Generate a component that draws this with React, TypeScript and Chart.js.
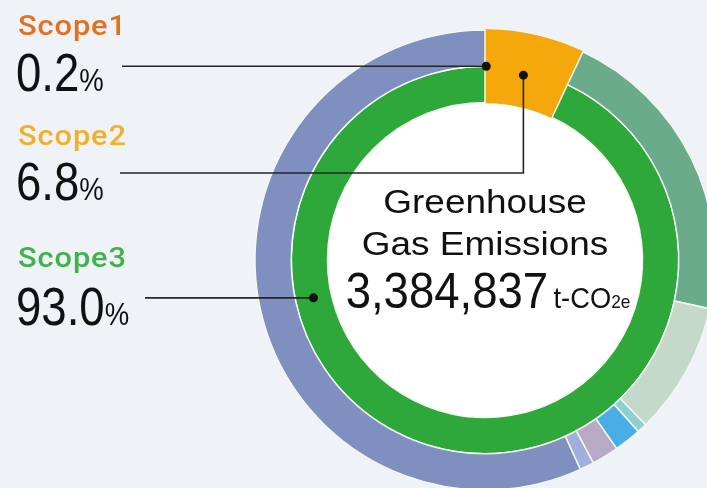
import React, { useEffect, useRef } from "react";
import { Chart, registerables } from "chart.js";

Chart.register(...registerables);

// ---- data ----
const scopeLabels = ["Scope1", "Scope2", "Scope3"];
const scopeShares = [0.2, 6.8, 93.0];
const scopeColors = ["#f5a80c", "#f5a80c", "#2ea83a"];

const breakdownLabels = [
  "Scope1",
  "Scope2",
  "Scope3 category A",
  "Scope3 category B",
  "Scope3 category C",
  "Scope3 category D",
  "Scope3 category E",
  "Scope3 category F",
  "Scope3 category G",
];
const breakdownShares = [0.2, 6.8, 21.4, 9.3, 0.7, 1.9, 1.9, 1.0, 56.8];
const breakdownColors = [
  "#f5a80c",
  "#f5a80c",
  "#6aab8b",
  "#c4d9c9",
  "#8fcfcd",
  "#4badE5",
  "#b8a9c5",
  "#9fb0dd",
  "#7f8fbf",
];

const labelPercents = ["0.2", "6.8", "93.0"];
const labelColors = ["#e2701f", "#f0b12a", "#3db34a"];
const totalText = "3,384,837";

const FONT = '"Liberation Sans", Arial, Helvetica, sans-serif';

export default function App() {
  const ref = useRef<HTMLCanvasElement | null>(null);

  useEffect(() => {
    if (!ref.current) return;
    const lineColor = "#262626";

    const leaderPlugin = {
      id: "leaders",
      beforeDatasetsDraw(chart: any) {
        const meta = chart.getDatasetMeta(1);
        const el = meta.data[0];
        if (!el) return;
        const ctx = chart.ctx;
        ctx.save();
        ctx.beginPath();
        ctx.arc(el.x, el.y, el.innerRadius, 0, Math.PI * 2);
        ctx.fillStyle = "#ffffff";
        ctx.fill();
        ctx.restore();
      },
      afterDatasetsDraw(chart: any) {
        const meta = chart.getDatasetMeta(1);
        const els = meta.data;
        if (!els || els.length < 3) return;
        const ctx = chart.ctx;
        const pt = (el: any, frac: number, r: number) => {
          const a = el.startAngle + (el.endAngle - el.startAngle) * frac;
          return { x: el.x + r * Math.cos(a), y: el.y + r * Math.sin(a) };
        };
        ctx.save();
        ctx.strokeStyle = lineColor;
        ctx.fillStyle = "#111";
        ctx.lineWidth = 1.6;

        // Scope1
        const p1 = pt(els[0], 0.5, els[0].outerRadius);
        ctx.beginPath();
        ctx.moveTo(122, p1.y);
        ctx.lineTo(p1.x, p1.y);
        ctx.stroke();
        ctx.beginPath();
        ctx.arc(p1.x, p1.y, 4.5, 0, Math.PI * 2);
        ctx.fill();

        // Scope2
        const p2 = pt(els[1], 0.45, els[1].outerRadius - 5);
        ctx.beginPath();
        ctx.moveTo(120, 173);
        ctx.lineTo(p2.x, 173);
        ctx.lineTo(p2.x, p2.y);
        ctx.stroke();
        ctx.beginPath();
        ctx.arc(p2.x, p2.y, 4.5, 0, Math.PI * 2);
        ctx.fill();

        // Scope3
        const p3 = pt(els[2], 0.694, (els[2].outerRadius + els[2].innerRadius) / 2);
        ctx.beginPath();
        ctx.moveTo(145, p3.y);
        ctx.lineTo(p3.x, p3.y);
        ctx.stroke();
        ctx.beginPath();
        ctx.arc(p3.x, p3.y, 4.5, 0, Math.PI * 2);
        ctx.fill();
        ctx.restore();
      },
    };

    const chart = new Chart(ref.current, {
      type: "doughnut",
      data: {
        labels: breakdownLabels,
        datasets: [
          {
            label: "Breakdown",
            data: breakdownShares,
            backgroundColor: breakdownColors,
            borderColor: breakdownColors.map((c, i) => (i < 2 ? c : "#f3f7f1")),
            borderWidth: 1.5,
            hoverOffset: 0,
          },
          {
            label: "Scope",
            data: scopeShares,
            backgroundColor: scopeColors,
            borderColor: scopeColors.map((c, i) => (i < 2 ? c : "#f3f9ee")),
            borderWidth: 1.5,
            hoverOffset: 0,
          },
        ],
      },
      options: {
        responsive: false,
        animation: false,
        events: [],
        radius: 230,
        cutout: 157,
        layout: { padding: { left: 255, top: 30, right: 15, bottom: 10 } },
        plugins: {
          legend: { display: false },
          tooltip: { enabled: false },
        },
      } as any,
      plugins: [leaderPlugin],
    });
    return () => chart.destroy();
  }, []);

  const base = (size: number, baseline: number) => baseline - 0.8465 * size;

  const scopeBaselines = [36, 146, 268];
  const pctBaselines = [91, 200, 325];

  return (
    <div
      style={{
        position: "fixed",
        left: 0,
        top: 0,
        width: 707,
        height: 488,
        overflow: "hidden",
        background: "#eff2f6",
        fontFamily: FONT,
      }}
    >
      <canvas
        ref={ref}
        width={730}
        height={500}
        style={{ position: "absolute", left: 0, top: 0 }}
      />
      {scopeLabels.map((s, i) => (
        <React.Fragment key={s}>
          <div
            style={{
              position: "absolute",
              left: 18,
              top: base(27, scopeBaselines[i]),
              fontFamily: 'Roboto, "Liberation Sans", Arial, sans-serif',
              fontSize: 27,
              lineHeight: 1,
              fontWeight: 500,
              letterSpacing: 0.8,
              color: labelColors[i],
              transform: "scaleX(1.14)",
              transformOrigin: "left center",
              whiteSpace: "nowrap",
            }}
          >
            {s}
          </div>
          <div
            style={{
              position: "absolute",
              left: 16,
              top: base(53, pctBaselines[i]),
              fontSize: 53,
              lineHeight: 1,
              color: "#111",
              transform: "scaleX(0.86)",
              transformOrigin: "left center",
              whiteSpace: "nowrap",
            }}
          >
            {labelPercents[i]}
            <span style={{ fontSize: 32, lineHeight: 1 }}>%</span>
          </div>
        </React.Fragment>
      ))}
      <div
        style={{
          position: "absolute",
          left: 285,
          width: 400,
          top: base(33, 213),
          fontSize: 33,
          lineHeight: 1,
          textAlign: "center",
          color: "#111",
          transform: "scaleX(1.12)",
          transformOrigin: "center center",
          whiteSpace: "nowrap",
        }}
      >
        Greenhouse
      </div>
      <div
        style={{
          position: "absolute",
          left: 285,
          width: 400,
          top: base(33, 255),
          fontSize: 33,
          lineHeight: 1,
          textAlign: "center",
          color: "#111",
          transform: "scaleX(1.12)",
          transformOrigin: "center center",
          whiteSpace: "nowrap",
        }}
      >
        Gas Emissions
      </div>
      <div
        style={{
          position: "absolute",
          left: 288,
          width: 400,
          top: base(50, 308),
          fontSize: 50,
          lineHeight: 1,
          textAlign: "center",
          color: "#111",
          transform: "scaleX(0.91)",
          transformOrigin: "center center",
          whiteSpace: "nowrap",
        }}
      >
        {totalText}
        <span style={{ fontSize: 30, lineHeight: 1, marginLeft: 6 }}>t-CO</span>
        <span style={{ fontSize: 19, lineHeight: 1 }}>2e</span>
      </div>
    </div>
  );
}
